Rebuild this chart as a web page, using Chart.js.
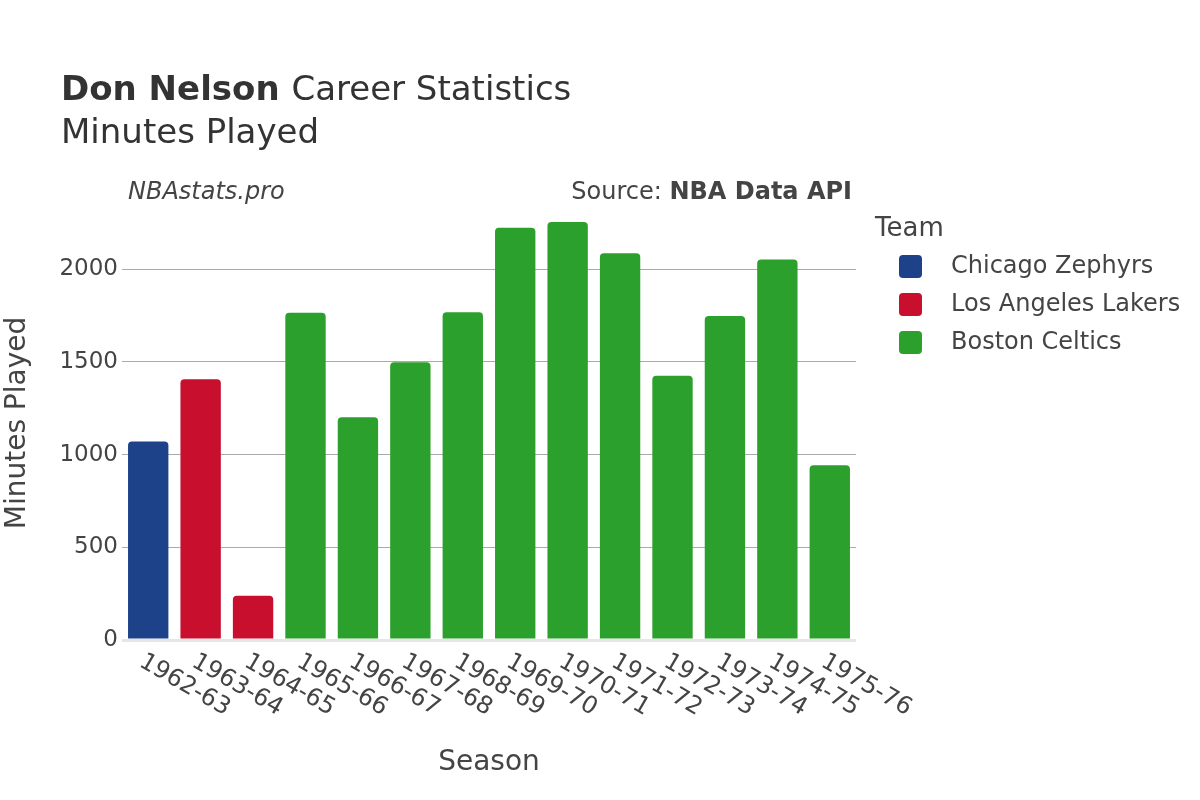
<!DOCTYPE html>
<html>
<head>
<meta charset="utf-8">
<script src="https://cdn.jsdelivr.net/npm/chart.js@4/dist/chart.umd.min.js"></script>
<style>
  html, body { margin: 0; padding: 0; background: #fff; }
  canvas { display: block; }
</style>
</head>
<body>
<canvas id="chart" width="1200" height="800"></canvas>
<script>
const seasons = ['1962-63', '1963-64', '1964-65', '1965-66', '1966-67', '1967-68', '1968-69',
  '1969-70', '1970-71', '1971-72', '1972-73', '1973-74', '1974-75', '1975-76']
const teams = ['Chicago Zephyrs', 'Los Angeles Lakers', 'Boston Celtics']
const teamColors = ['#1d428a', '#c8102e', '#2ca02c']
const seasonTeam = [0, 1, 1, 2, 2, 2, 2, 2, 2, 2, 2, 2, 2, 2]
const minutes = [1070, 1406, 238, 1765, 1202, 1498, 1768, 2224, 2254, 2086, 1425, 1748, 2052, 943]
const yTicks = [0, 500, 1000, 1500, 2000]

const font = 'DejaVu Sans'
const textColor = '#444'

const datasets = teams.map((team, t) => ({
  label: team,
  data: minutes.map((v, i) => (seasonTeam[i] === t ? v : null)),
  backgroundColor: teamColors[t],
  borderRadius: 4,
  barPercentage: 0.77,
  categoryPercentage: 1,
}))

const textPlugin = {
  id: 'texts',
  afterDraw(chart) {
    const ctx = chart.ctx
    const area = chart.chartArea
    const xScale = chart.scales.x
    ctx.save()

    // title
    ctx.fillStyle = '#333'
    ctx.textBaseline = 'alphabetic'
    ctx.textAlign = 'left'
    ctx.font = 'bold 34px "' + font + '"'
    ctx.fillText('Don Nelson', 61, 100)
    let w = ctx.measureText('Don Nelson ').width
    ctx.font = '34px "' + font + '"'
    ctx.fillText('Career Statistics', 61 + w, 100)
    ctx.fillText('Minutes Played', 61, 143)

    // watermark + source
    ctx.fillStyle = textColor
    ctx.font = 'italic 24px "' + font + '"'
    ctx.fillText('NBAstats.pro', 128, 199)
    ctx.textAlign = 'right'
    ctx.font = 'bold 24px "' + font + '"'
    ctx.fillText('NBA Data API', 852, 199)
    w = ctx.measureText('NBA Data API').width
    ctx.font = '24px "' + font + '"'
    ctx.fillText('Source: ', 852 - w, 199)

    // x tick labels, rotated
    ctx.font = '24px "' + font + '"'
    ctx.textAlign = 'left'
    ctx.textBaseline = 'middle'
    seasons.forEach((s, i) => {
      const x = xScale.getPixelForTick(i)
      ctx.save()
      ctx.translate(x - 7, 660)
      ctx.rotate(Math.PI / 6)
      ctx.fillText(s, 0, 0)
      ctx.restore()
    })

    // axis titles
    ctx.font = '28px "' + font + '"'
    ctx.textAlign = 'center'
    ctx.textBaseline = 'alphabetic'
    ctx.fillText('Season', (area.left + area.right) / 2, 770)
    ctx.save()
    ctx.translate(25, 423)
    ctx.rotate(-Math.PI / 2)
    ctx.fillText('Minutes Played', 0, 0)
    ctx.restore()

    // legend
    ctx.textAlign = 'left'
    ctx.font = '26px "' + font + '"'
    ctx.fillText('Team', 875, 236)
    ctx.font = '24px "' + font + '"'
    ctx.textBaseline = 'middle'
    chart.data.datasets.forEach((ds, i) => {
      const y = 266 + i * 38
      ctx.fillStyle = ds.backgroundColor
      ctx.beginPath()
      ctx.roundRect(899, y - 11, 23, 23, 4)
      ctx.fill()
      ctx.fillStyle = textColor
      ctx.fillText(ds.label, 951, y + 1)
    })
    ctx.restore()
  },
}

new Chart(document.getElementById('chart'), {
  type: 'bar',
  data: { labels: seasons, datasets: datasets },
  options: {
    responsive: false,
    animation: false,
    layout: { padding: { top: 195, right: 344, left: 0, bottom: 0 } },
    plugins: { legend: { display: false }, tooltip: { enabled: false } },
    scales: {
      x: {
        stacked: true,
        grid: { display: false },
        border: { display: false },
        ticks: { display: false },
        afterFit: (scale) => { scale.height = 160 },
      },
      y: {
        stacked: true,
        min: 0,
        max: 2400,
        afterBuildTicks: (axis) => { axis.ticks = yTicks.map((v) => ({ value: v })) },
        afterFit: (scale) => { scale.width = 122 },
        border: { display: false },
        grid: {
          drawTicks: false,
          color: (c) => (c.tick && c.tick.value === 0 ? '#e6e6e6' : '#aaaaaa'),
          lineWidth: (c) => (c.tick && c.tick.value === 0 ? 3 : 1),
        },
        ticks: {
          padding: 4,
          color: textColor,
          font: { family: font, size: 23 },
          callback: (v) => String(v),
        },
      },
    },
  },
  plugins: [textPlugin],
})
</script>
</body>
</html>
